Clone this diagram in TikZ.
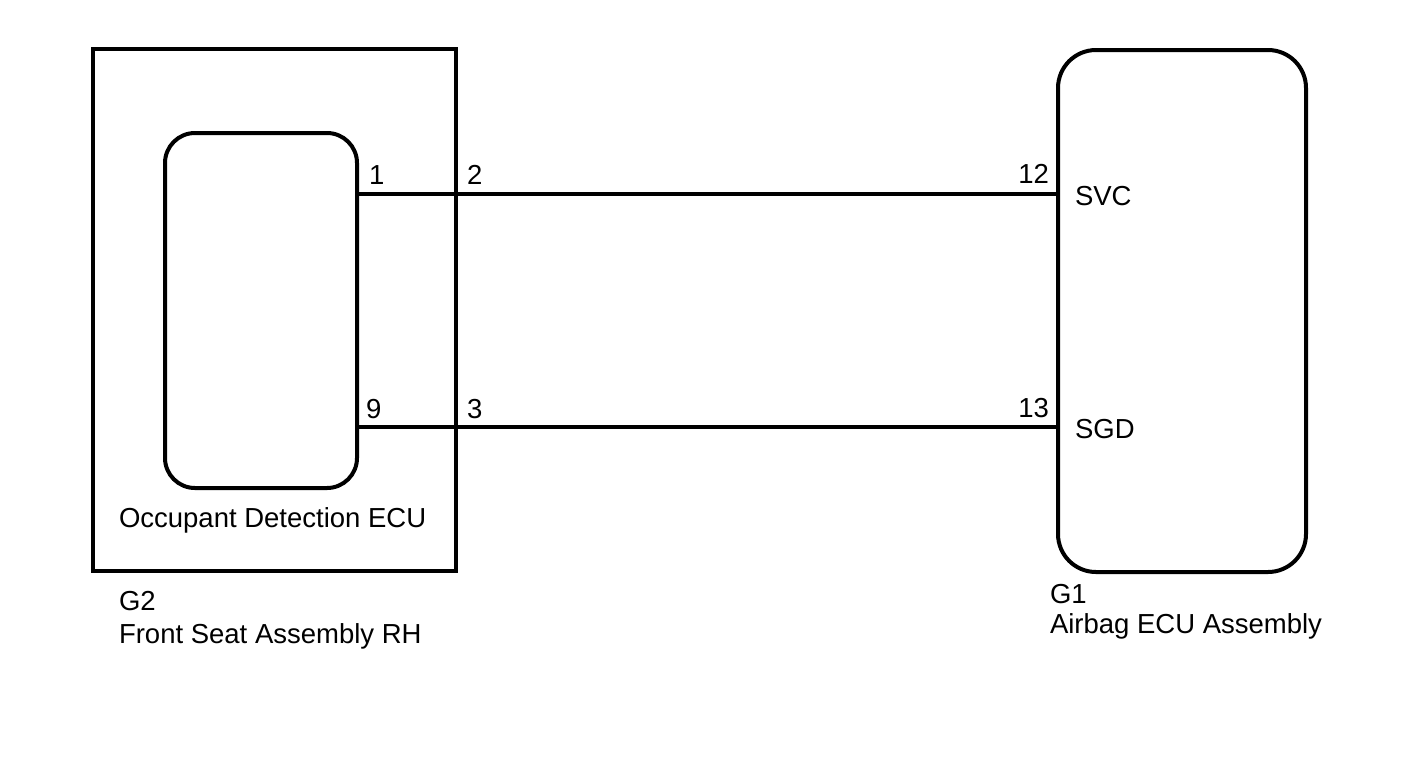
\documentclass[tikz,border=0pt]{standalone}
\usepackage{fontspec}
\setmainfont{Liberation Sans}
\begin{document}
\begin{tikzpicture}[x=1pt,y=-1pt,line width=4pt,
  lbl/.style={inner sep=0pt,anchor=base west,font=\fontsize{27.5}{33}\selectfont},
  lble/.style={lbl,anchor=base east},
  box/.style={draw,inner sep=0pt,line width=4pt},
  wire/.style={draw,line width=4pt}]
\useasboundingbox (0,0) rectangle (1421,756);
\node[box,minimum width=363pt,minimum height=522pt] (seat) at (274.5,310) {};
\node[box,rounded corners=30pt,minimum width=192pt,minimum height=355pt] (ode) at (261,310.5) {};
\node[box,rounded corners=38pt,minimum width=248pt,minimum height=522pt] (air) at (1182,311) {};
\coordinate (p1) at (ode.east |- 0,194);
\coordinate (p12) at (air.west |- 0,194);
\coordinate (p9) at (ode.east |- 0,427);
\coordinate (p13) at (air.west |- 0,427);
\draw[wire] (p1) -- (p12);
\draw[wire] (p9) -- (p13);
\node[lbl] (t1) at (367,184) {1};
\node[lbl] (t2) at (465,184) {2};
\node[lble] (t12) at (1051,183) {12};
\node[lbl] (tsvc) at (1073,205) {SVC};
\node[lbl] (t9) at (364,418) {9};
\node[lbl] (t3) at (465,418) {3};
\node[lble] (t13) at (1051,417) {13};
\node[lbl] (tsgd) at (1073,438) {SGD};
\node[lbl] (tode) at (117,527) {Occupant Detection ECU};
\node[lbl] (tg2) at (117,610) {G2};
\node[lbl] (tfs) at (117,643) {Front Seat Assembly RH};
\node[lbl] (tg1) at (1048,603) {G1};
\node[lbl] (tab) at (1048,633) {Airbag ECU Assembly};
\end{tikzpicture}
\end{document}
